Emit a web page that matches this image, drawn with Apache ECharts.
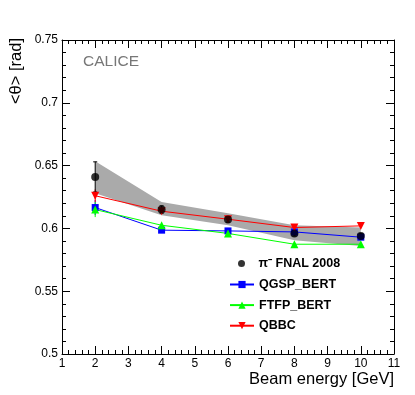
<!DOCTYPE html>
<html>
<head>
<meta charset="utf-8">
<script src="https://cdn.jsdelivr.net/npm/echarts@6/dist/echarts.min.js"></script>
<style>
  html, body { margin: 0; padding: 0; background: #fff; }
  #chart { width: 415px; height: 395px; }
</style>
</head>
<body>
<div id="chart"></div>
<script>
// beam energies
var energies = [2, 4, 6, 8, 10];

// pi- FNAL 2008 data + stat errors
var dataVals = [0.641, 0.615, 0.607, 0.596, 0.594];
var dataErr = [0.012, 0.003, 0.002, 0.002, 0.002];
// systematic band
var bandLo = [0.628, 0.6105, 0.6025, 0.5906, 0.586];
var bandHi = [0.6534, 0.621, 0.612, 0.6025, 0.6007];

// simulations
var qgspVals = [0.6166, 0.5986, 0.598, 0.5972, 0.593];
var qgspErr = [0.006, 0.001, 0.001, 0.001, 0.001];
var ftfpVals = [0.615, 0.6025, 0.596, 0.5874, 0.5874];
var ftfpErr = [0.006, 0.001, 0.001, 0.001, 0.001];
var qbbcVals = [0.626, 0.6137, 0.6073, 0.6007, 0.602];
var qbbcErr = [0.005, 0.001, 0.001, 0.001, 0.001];

var FONT = '"Liberation Sans", Arial, Helvetica, sans-serif';

function pairs(vals) {
  return energies.map(function (x, i) { return [x, vals[i]]; });
}
function errData(vals, errs) {
  return energies.map(function (x, i) { return [x, vals[i] - errs[i], vals[i] + errs[i]]; });
}
function errSeries(vals, errs, color, cap) {
  return {
    type: 'custom',
    silent: true,
    z: 3,
    data: errData(vals, errs),
    renderItem: function (params, api) {
      var lo = api.coord([api.value(0), api.value(1)]);
      var hi = api.coord([api.value(0), api.value(2)]);
      var st = { stroke: color, lineWidth: 1 };
      return {
        type: 'group',
        children: [
          { type: 'line', shape: { x1: lo[0], y1: lo[1], x2: hi[0], y2: hi[1] }, style: st },
          { type: 'line', shape: { x1: lo[0] - cap, y1: lo[1], x2: lo[0] + cap, y2: lo[1] }, style: st },
          { type: 'line', shape: { x1: hi[0] - cap, y1: hi[1], x2: hi[0] + cap, y2: hi[1] }, style: st }
        ]
      };
    }
  };
}

var xAxisBase = {
  type: 'value', min: 1, max: 11, interval: 1,
  axisLine: { lineStyle: { color: '#000', width: 1 } },
  axisTick: { inside: true, length: 8, lineStyle: { color: '#000' } },
  minorTick: { show: true, splitNumber: 5, length: 4, lineStyle: { color: '#000' } },
  splitLine: { show: false }
};
var yAxisBase = {
  type: 'value', min: 0.5, max: 0.75, interval: 0.05,
  axisLine: { show: true, lineStyle: { color: '#000', width: 1 } },
  axisTick: { show: true, inside: true, length: 8, lineStyle: { color: '#000' } },
  minorTick: { show: true, splitNumber: 5, length: 4, lineStyle: { color: '#000' } },
  splitLine: { show: false }
};

var legendText = { color: '#000', fontFamily: FONT, fontSize: 12.5, fontWeight: 'bold', lineHeight: 12 };

var chart = echarts.init(document.getElementById('chart'));
chart.setOption({
  animation: false,
  backgroundColor: '#fff',
  grid: { left: 62, right: 21, top: 40, bottom: 41 },
  xAxis: [
    Object.assign({}, xAxisBase, {
      position: 'bottom',
      axisLabel: { color: '#000', fontFamily: FONT, fontSize: 12, margin: 4 }
    }),
    Object.assign({}, xAxisBase, { position: 'top', axisLabel: { show: false } })
  ],
  yAxis: [
    Object.assign({}, yAxisBase, {
      position: 'left',
      axisLabel: { color: '#000', fontFamily: FONT, fontSize: 12, margin: 4 }
    }),
    Object.assign({}, yAxisBase, { position: 'right', axisLabel: { show: false } })
  ],
  legend: [
    {
      data: ['π⁻ FNAL 2008'],
      orient: 'vertical', left: 238, top: 257, padding: 0,
      itemWidth: 24, itemHeight: 7,
      textStyle: legendText
    },
    {
      data: ['QGSP_BERT', 'FTFP_BERT', 'QBBC'],
      orient: 'vertical', left: 229, top: 278, padding: 0, itemGap: 7.6,
      itemWidth: 24, itemHeight: 9,
      textStyle: legendText
    }
  ],
  graphic: [
    { type: 'text', left: 83, top: 54, style: { text: 'CALICE', fill: '#777', font: '15.5px ' + FONT } },
    { type: 'text', right: 21, top: 371, style: { text: 'Beam energy [GeV]', fill: '#000', font: '16.5px ' + FONT } },
    {
      type: 'text', x: 16, y: 38, rotation: Math.PI / 2,
      style: { text: '<θ> [rad]', fill: '#000', font: '16.5px ' + FONT, align: 'right', verticalAlign: 'middle' }
    }
  ],
  series: [
    {
      type: 'custom',
      name: 'band',
      silent: true,
      z: 1,
      data: energies.map(function (x, i) { return [x, bandLo[i], bandHi[i]]; }),
      renderItem: function (params, api) {
        if (params.dataIndex !== 0) return { type: 'group', children: [] };
        var pts = [];
        for (var i = 0; i < energies.length; i++) pts.push(api.coord([energies[i], bandHi[i]]));
        for (var j = energies.length - 1; j >= 0; j--) pts.push(api.coord([energies[j], bandLo[j]]));
        return { type: 'polygon', shape: { points: pts }, style: { fill: '#aaaaaa' } };
      }
    },
    errSeries(qgspVals, qgspErr, '#0000ff', 0),
    errSeries(ftfpVals, ftfpErr, '#00ff00', 0),
    errSeries(qbbcVals, qbbcErr, '#ff0000', 0),
    {
      name: 'QGSP_BERT', type: 'line', z: 4,
      data: pairs(qgspVals),
      symbol: 'rect', symbolSize: 7,
      lineStyle: { color: '#0000ff', width: 1 },
      itemStyle: { color: '#0000ff' }
    },
    {
      name: 'FTFP_BERT', type: 'line', z: 4,
      data: pairs(ftfpVals),
      symbol: 'triangle', symbolSize: 8,
      lineStyle: { color: '#00ff00', width: 1 },
      itemStyle: { color: '#00ff00' }
    },
    {
      name: 'QBBC', type: 'line', z: 4,
      data: pairs(qbbcVals),
      symbol: 'triangle', symbolRotate: 180, symbolSize: 8,
      lineStyle: { color: '#ff0000', width: 1 },
      itemStyle: { color: '#ff0000' }
    },
    errSeries(dataVals, dataErr, '#000', 2),
    {
      name: 'π⁻ FNAL 2008', type: 'scatter', z: 6,
      data: pairs(dataVals),
      symbol: 'circle', symbolSize: 8,
      itemStyle: { color: '#000' }
    }
  ]
});
</script>
</body>
</html>
